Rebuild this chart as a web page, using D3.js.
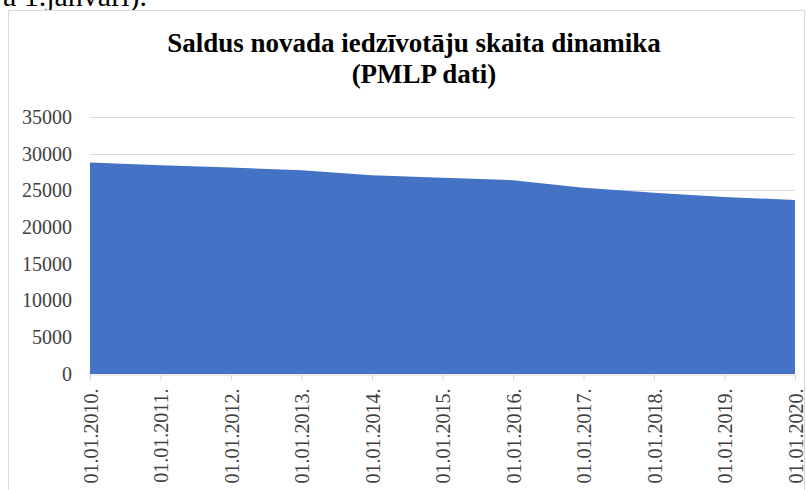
<!DOCTYPE html>
<html>
<head>
<meta charset="utf-8">
<script src="https://cdn.jsdelivr.net/npm/d3@7"></script>
<style>
  body { margin: 0; background: #fff; overflow: hidden; }
  svg { display: block; }
</style>
</head>
<body>
<div id="chart"></div>
<script>
// datu punkti (iedzīvotāju skaits uz 1. janvāri)
const dates = ["01.01.2010.", "01.01.2011.", "01.01.2012.", "01.01.2013.", "01.01.2014.", "01.01.2015.",
               "01.01.2016.", "01.01.2017.", "01.01.2018.", "01.01.2019.", "01.01.2020."];
const population = [28800, 28430, 28120, 27760, 27080, 26740, 26400, 25350, 24670, 24120, 23680];
const yTicks = [0, 5000, 10000, 15000, 20000, 25000, 30000, 35000];

const width = 806, height = 490;
const margin = { left: 90, right: 11, top: 117, bottom: 116 };
const serif = "'Liberation Serif', 'Times New Roman', serif";

const svg = d3.select("#chart").append("svg")
    .attr("width", width)
    .attr("height", height);

// teksts virs diagrammas (nogriezts)
svg.append("text")
    .attr("x", 147)
    .attr("y", 6)
    .attr("text-anchor", "end")
    .style("font-family", serif)
    .style("font-size", "30px")
    .attr("fill", "#000")
    .text("a 1.janvāri).");

// diagrammas rāmis
svg.append("rect")
    .attr("x", 8.5)
    .attr("y", 10.5)
    .attr("width", 796)
    .attr("height", 500)
    .attr("fill", "#fff")
    .attr("stroke", "#d9d9d9")
    .attr("stroke-width", 1);

const x = d3.scalePoint()
    .domain(dates)
    .range([margin.left, width - margin.right]);

const y = d3.scaleLinear()
    .domain([0, 35000])
    .range([height - margin.bottom, margin.top]);

// režģa līnijas
svg.append("g")
    .selectAll("line")
    .data(yTicks.filter(d => d > 0))
    .enter()
    .append("line")
    .attr("x1", margin.left)
    .attr("x2", width - margin.right)
    .attr("y1", d => Math.round(y(d)) + 0.5)
    .attr("y2", d => Math.round(y(d)) + 0.5)
    .attr("stroke", "#d9d9d9")
    .attr("stroke-width", 1);

// laukums
const area = d3.area()
    .x((d, i) => x(dates[i]))
    .y0(y(0))
    .y1(d => y(d));

svg.append("path")
    .datum(population)
    .attr("d", area)
    .attr("fill", "#4472c4");

// x ass
const xAxis = svg.append("g")
    .attr("transform", `translate(0, ${Math.round(y(0)) + 0.5})`)
    .call(d3.axisBottom(x).tickSize(6).tickSizeOuter(0));
xAxis.select(".domain").attr("stroke", "#d9d9d9");
xAxis.selectAll(".tick line").attr("stroke", "#d9d9d9");
xAxis.selectAll(".tick text")
    .attr("transform", "rotate(-90)")
    .attr("x", -14)
    .attr("y", 0)
    .attr("dy", "0.35em")
    .attr("text-anchor", "end")
    .attr("fill", "#404040")
    .style("font-family", serif)
    .style("font-size", "20px");

// y ass
const yAxis = svg.append("g")
    .attr("transform", `translate(${margin.left}, 0)`)
    .call(d3.axisLeft(y).tickValues(yTicks).tickSize(0).tickPadding(18).tickFormat(d3.format("d")));
yAxis.select(".domain").remove();
yAxis.selectAll(".tick text")
    .attr("fill", "#404040")
    .style("font-family", serif)
    .style("font-size", "20px");

// virsraksts
const title = svg.append("text")
    .attr("y", 52)
    .attr("text-anchor", "middle")
    .style("font-family", serif)
    .style("font-size", "27px")
    .style("font-weight", "bold")
    .attr("fill", "#000");
title.append("tspan").attr("x", 414).text("Saldus novada iedzīvotāju skaita dinamika");
title.append("tspan").attr("x", 424).attr("dy", 31).text("(PMLP dati)");
</script>
</body>
</html>
